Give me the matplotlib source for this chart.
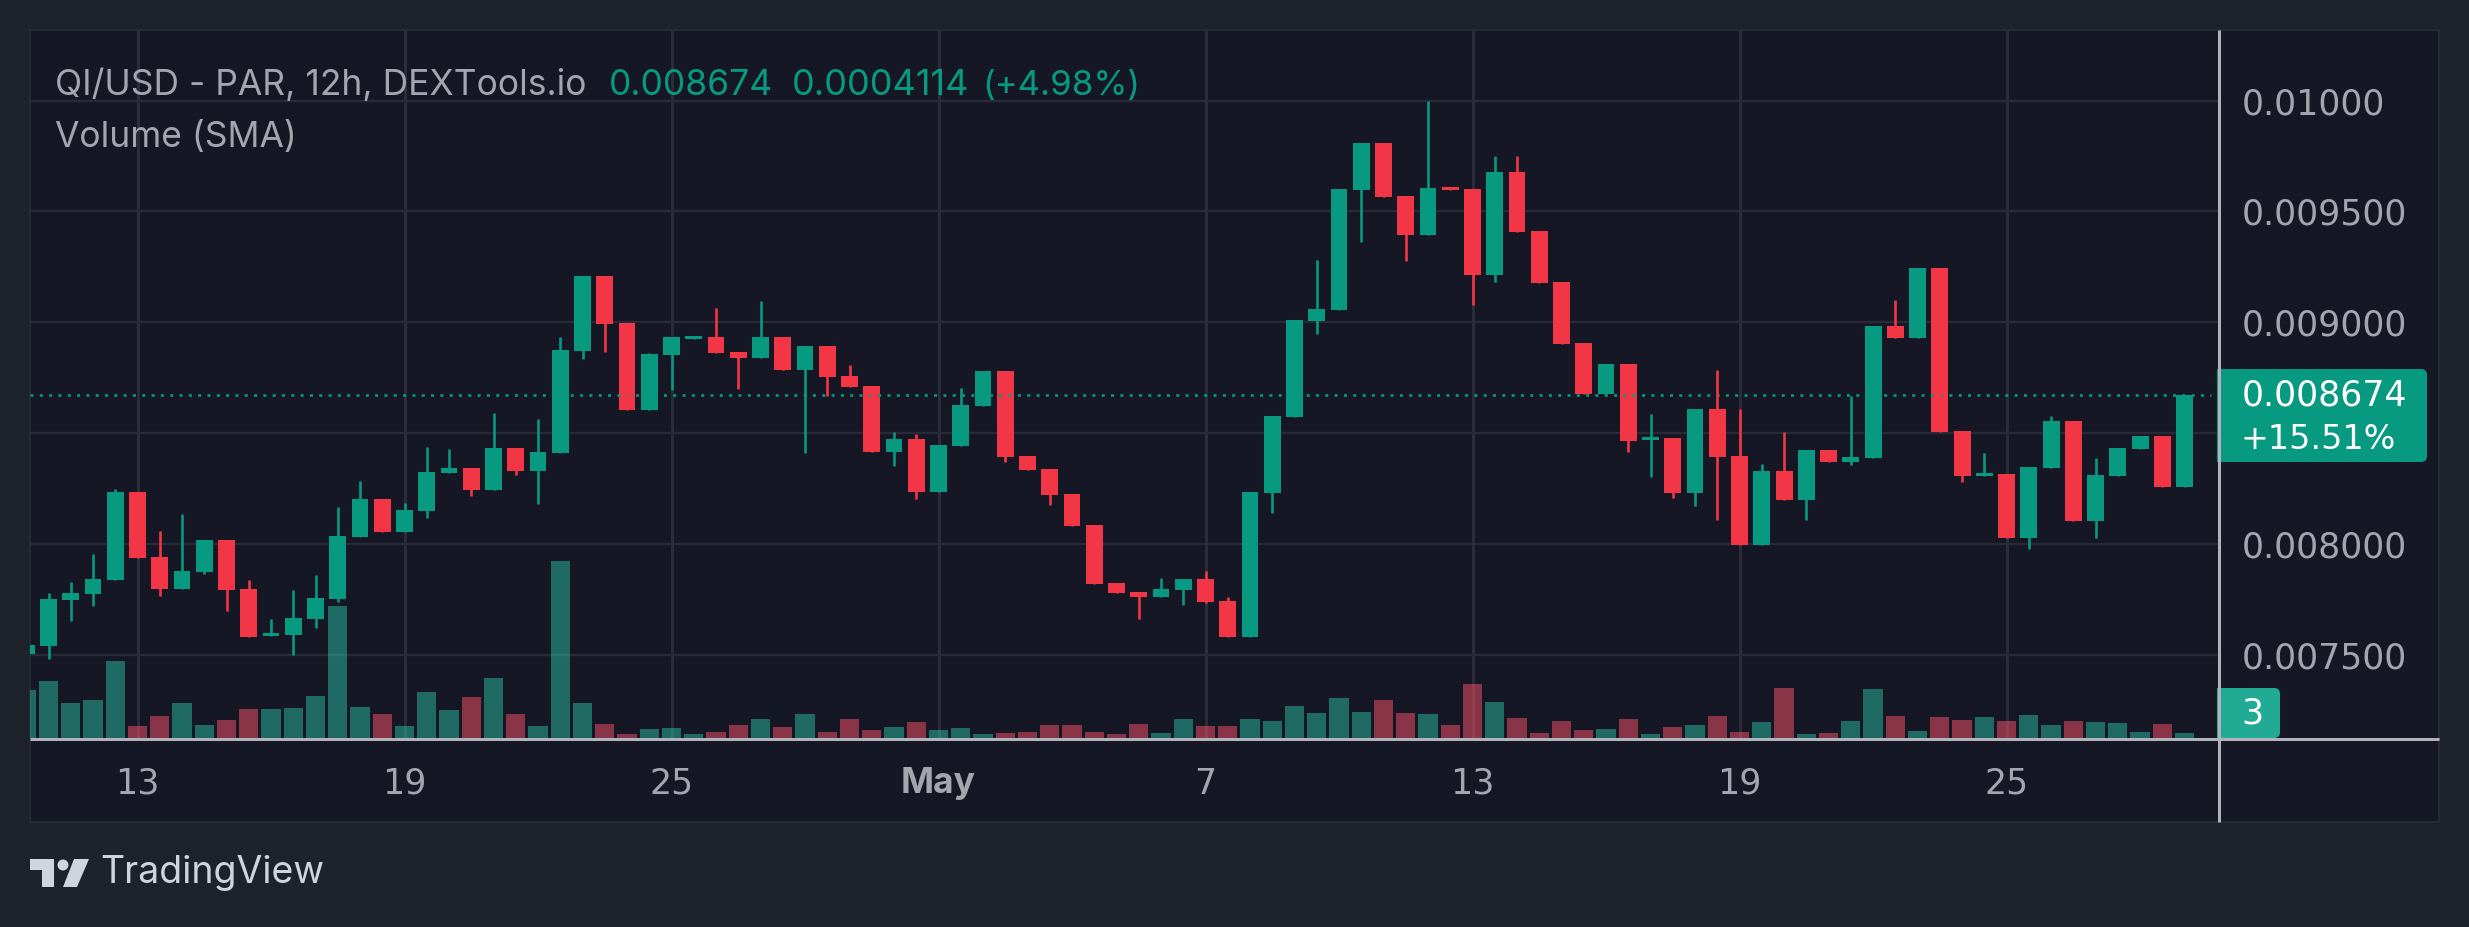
import matplotlib
matplotlib.use("Agg")
import matplotlib.pyplot as plt
from matplotlib.patches import Rectangle, FancyBboxPatch, Polygon, Circle

plt.rcParams['font.family'] = ['Inter', 'DejaVu Sans']

# Prices in millionths of a dollar (8674 = 0.008674)
opens = [7506,7540,7748,7775,7839,8236,7943,7799,7873,8020,7799,7588,7591,7663,7753,8033,8204,8054,8150,8321,
         8342,8244,8433,8329,8412,8870,9208,8998,8604,8854,8926,8934,8867,8838,8934,8785,8894,8758,8713,8414,
         8473,8236,8444,8622,8779,8398,8340,8225,8086,7825,7785,7761,7793,7844,7743,7583,8230,8574,9006,9057,
         9598,9808,9568,9395,9611,9600,9214,9678,9411,9182,8907,8678,8811,8470,8478,8230,8609,8398,7996,8329,
         8198,8425,8372,8388,8985,8929,9246,8510,8308,8316,8028,8342,8556,8105,8308,8430,8489,8257]
highs = [7546,7780,7831,7956,8249,8236,8060,8137,8020,8020,7839,7663,7793,7860,8166,8284,8204,8185,8438,8430,
         8342,8590,8433,8564,8934,9208,9208,8998,8862,8934,8939,9065,8867,9097,8934,8894,8894,8809,8713,8505,
         8497,8446,8705,8779,8779,8398,8340,8225,8086,7825,7785,7847,7844,7879,7761,8236,8577,9011,9280,9600,
         9808,9808,9568,9997,9611,9600,9749,9749,9411,9182,8907,8811,8811,8588,8478,8609,8785,8609,8361,8505,
         8425,8425,8670,8985,9102,9246,9246,8510,8412,8316,8348,8577,8556,8388,8433,8489,8489,8674]
lows = [7506,7481,7655,7721,7839,7937,7767,7799,7865,7700,7583,7588,7500,7625,7740,8033,8054,8054,8118,8321,
        8217,8244,8313,8180,8412,8835,8867,8604,8604,8694,8926,8862,8699,8838,8785,8412,8667,8707,8414,8353,
        8204,8236,8444,8622,8372,8334,8177,8081,7820,7780,7663,7761,7727,7735,7583,7583,8140,8574,8947,9057,
        9363,9566,9278,9395,9598,9078,9182,9408,9176,8902,8678,8678,8414,8302,8209,8172,8108,7996,7996,8198,
        8108,8372,8356,8388,8929,8929,8505,8281,8308,8028,7977,8342,8105,8028,8308,8430,8257,8257]
closes = [7546,7753,7780,7844,8236,7937,7799,7879,8020,7793,7583,7599,7668,7756,8036,8204,8054,8153,8326,8342,
          8244,8433,8329,8414,8875,9208,8993,8604,8857,8934,8939,8862,8838,8934,8785,8894,8753,8707,8414,8473,
          8236,8446,8628,8779,8393,8334,8222,8081,7820,7780,7761,7799,7844,7740,7583,8236,8577,9011,9059,9600,
          9808,9566,9395,9606,9598,9214,9678,9408,9176,8902,8678,8811,8465,8484,8230,8609,8393,7996,8329,8198,
          8425,8372,8393,8985,8929,9246,8505,8308,8321,8028,8348,8556,8105,8313,8433,8489,8257,8674]
volumes = [81,96,59,64,130,20,37,59,22,30,49,49,50,71,223,52,40,20,77,47,
           69,101,40,20,299,59,23,6,15,17,6,10,22,32,18,40,10,32,13,18,
           27,13,17,6,8,10,22,22,10,6,23,8,32,20,20,32,28,54,42,67,
           44,64,42,40,22,91,61,34,8,28,13,15,32,6,18,22,37,10,27,84,
           6,8,28,83,37,12,35,30,35,28,39,22,28,27,25,10,23,8]
# Volume bar colour does not always follow the candle: 1 = green bar
vol_up = [1,1,1,1,1,0,0,1,1,0,0,1,1,1,1,1,0,1,1,1,
          0,1,0,1,1,1,0,0,1,1,1,0,0,1,0,1,0,0,0,1,
          0,1,1,1,0,0,0,0,0,0,0,1,1,0,0,1,1,1,1,1,
          1,0,0,1,0,0,1,0,0,0,0,1,0,1,0,1,0,0,1,0,
          1,0,1,1,0,1,0,0,1,0,1,1,0,1,1,1,0,1]

price_ticks = [7500, 8000, 8500, 9000, 9500, 10000]
price_labels = ['0.007500', '0.008000', '', '0.009000', '0.009500', '0.01000']
date_ticks = [5, 17, 29, 41, 53, 65, 77, 89]
date_labels = ['13', '19', '25', 'May', '7', '13', '19', '25']
last_close = 8674

OUTER = '#1E222D'; PANEL = '#151824'; GRID = '#282B37'
UP = '#089981'; DOWN = '#F23645'; TXT = '#A3A6AF'; AXIS = '#B2B2BA'
NUM = 'DejaVu Sans'
W, H = 2469, 927
L, R, T, B = 30, 2218.6, 29.6, 739
xlim = (0.1685, 98.53)
ylim = (7122.6, 10319.6)

fig = plt.figure(figsize=(W/100, H/100), dpi=100, facecolor=OUTER)
def rect_ax(l, r, t, b, z):
    a = fig.add_axes([l/W, 1-b/H, (r-l)/W, (b-t)/H], zorder=z)
    a.patch.set_alpha(0)
    for s in a.spines.values():
        s.set_visible(False)
    return a

base = rect_ax(0, W, 0, H, 0)
base.set_xlim(0, W); base.set_ylim(H, 0); base.axis('off')
base.add_patch(Rectangle((30, 29.6), 2409, 792.4, fc=PANEL, ec=GRID, lw=1.4))

grid = rect_ax(L, R, T, B, 1)
grid.set_xlim(*xlim); grid.set_ylim(*ylim)
grid.yaxis.tick_right()
grid.set_yticks(price_ticks, price_labels, fontsize=25, color=TXT, family=NUM)
grid.set_xticks(date_ticks, date_labels, fontsize=25, color=TXT, family=NUM)
grid.tick_params(axis='y', length=0, pad=16.5)
grid.tick_params(axis='x', length=0, pad=20)
for lab in grid.get_yticklabels():
    lab.set_va('center_baseline')
may = grid.get_xticklabels()[3]
may.set_fontweight('bold'); may.set_family('Inter'); may.set_fontsize(25.5)
grid.grid(True, axis='x', color='#2B2D3A', lw=2.1)
grid.grid(True, axis='y', color=GRID, lw=1.7)
grid.set_axisbelow(True)

vol = rect_ax(L, R, T, 738, 2)
vol.set_xlim(*xlim); vol.set_ylim(0, 1198); vol.axis('off')
xs = list(range(len(opens)))
vol.bar(xs, volumes, width=0.86, color=['#2ABEA2' if u else '#FF506C' for u in vol_up], alpha=0.5, lw=0)

ax = rect_ax(L, R, T, B, 3)
ax.set_xlim(*xlim); ax.set_ylim(*ylim); ax.axis('off')
cols = [UP if c >= o else DOWN for o, c in zip(opens, closes)]
ax.axhline(last_close, xmax=0.9966, color=UP, lw=1.9, ls=(0, (1.13, 2.4)))
ax.vlines(xs, lows, highs, colors=cols, lw=1.9)
ax.bar(xs, [abs(c-o) for o, c in zip(opens, closes)], bottom=[min(o, c) for o, c in zip(opens, closes)],
       width=0.76, color=cols, lw=0)

top = rect_ax(0, W, 0, H, 4)
top.set_xlim(0, W); top.set_ylim(H, 0); top.axis('off')
top.plot([30, 2439], [739, 739], color=AXIS, lw=2.16, solid_capstyle='butt')
top.plot([2218.6, 2218.6], [29.6, 822], color=AXIS, lw=2.16, solid_capstyle='butt')

def label_box(x0, x1, y0, y1, c):
    top.add_patch(FancyBboxPatch((x0+10, y0+6), x1-x0-16, y1-y0-12,
                                 boxstyle='round,pad=6,rounding_size=6', fc=c, ec='none'))
    top.add_patch(Rectangle((x0, y0), 20, y1-y0, fc=c, ec='none'))
label_box(2217, 2427, 369, 462, UP)
label_box(2217, 2280, 688, 738, '#22AB94')
top.text(2242, 396, '0.008674', color='white', fontsize=25, va='center', family=NUM)
top.text(2241, 439, '+15.51%', color='white', fontsize=24, va='center', family=NUM)
top.text(2241, 714, '3', color='white', fontsize=25, va='center', family=NUM)

top.text(55, 85.5, 'QI/USD - PAR, 12h, DEXTools.io', color=TXT, fontsize=25.5, va='center')
top.text(55, 137, 'Volume (SMA)', color=TXT, fontsize=25.5, va='center')
top.text(609, 85.5, '0.008674', color=UP, fontsize=25.5, va='center')
top.text(792, 85.5, '0.0004114', color=UP, fontsize=26, va='center')
top.text(982, 85.5, '(+4.98%)', color=UP, fontsize=25, va='center')

# TradingView wordmark and logo
LOGO = '#D1D4DC'
top.add_patch(Polygon([(30, 859), (54, 859), (54, 887), (42, 887), (42, 870), (30, 870)], fc=LOGO, ec='none'))
top.add_patch(Circle((63, 865), 5.5, fc=LOGO, ec='none'))
top.add_patch(Polygon([(74, 859), (89, 859), (77, 887), (63, 887)], fc=LOGO, ec='none'))
top.text(100, 873, 'TradingView', color=LOGO, fontsize=27, va='center')

fig.savefig('out.png', dpi=100, facecolor=OUTER)
